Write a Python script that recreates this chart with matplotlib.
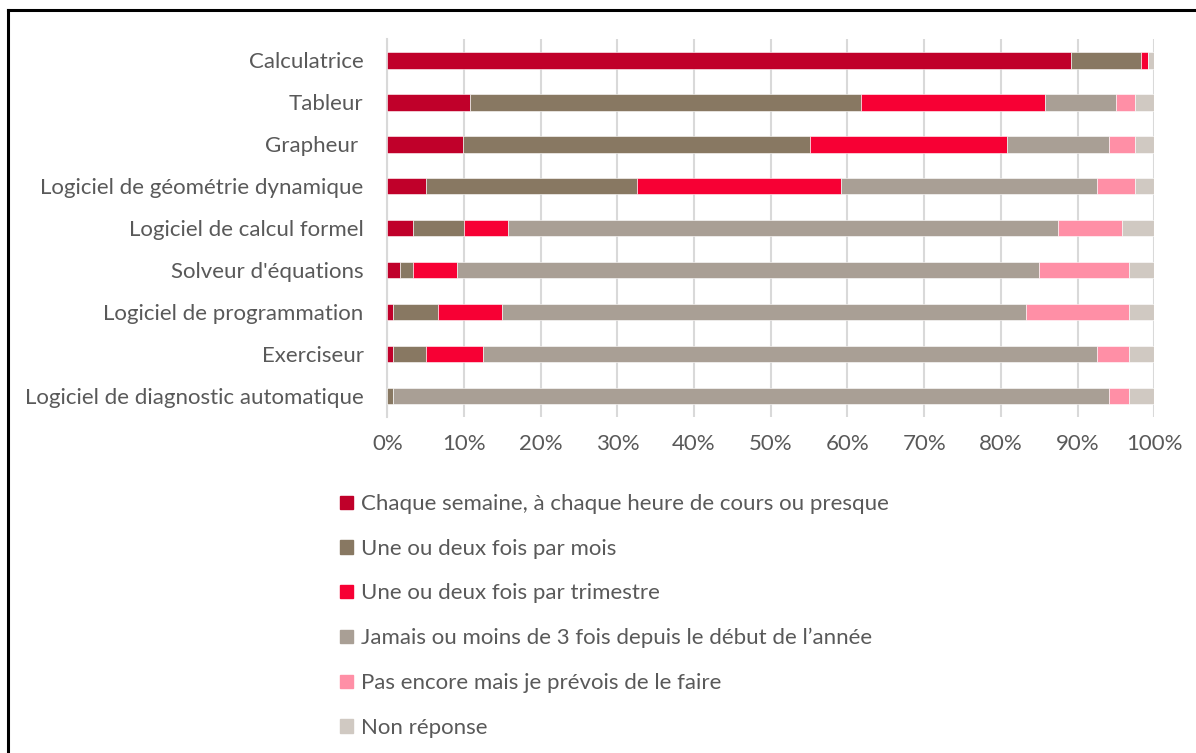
import matplotlib.pyplot as plt
import matplotlib.patches as mpatches
from matplotlib.lines import Line2D
from matplotlib.ticker import PercentFormatter

plt.rcParams['font.family'] = ['Lato', 'DejaVu Sans']

# catégories (de haut en bas)
categories = [
    "Calculatrice",
    "Tableur",
    "Grapheur ",
    "Logiciel de géométrie dynamique",
    "Logiciel de calcul formel",
    "Solveur d'équations",
    "Logiciel de programmation",
    "Exerciseur",
    "Logiciel de diagnostic automatique",
]

series_names = [
    "Chaque semaine, à chaque heure de cours ou presque",
    "Une ou deux fois par mois",
    "Une ou deux fois par trimestre",
    "Jamais ou moins de 3 fois depuis le début de l\u2019année",
    "Pas encore mais je prévois de le faire",
    "Non réponse",
]

chaque_semaine = [89.2, 10.8, 9.9, 5.0, 3.3, 1.6, 0.8, 0.8, 0.0]
par_mois = [9.1, 50.9, 45.2, 27.5, 6.7, 1.7, 5.8, 4.2, 0.8]
par_trimestre = [0.9, 24.1, 25.7, 26.7, 5.7, 5.8, 8.4, 7.5, 0.0]
jamais = [0.0, 9.2, 13.3, 33.3, 71.8, 75.9, 68.3, 80.0, 93.3]
pas_encore = [0.0, 2.5, 3.4, 5.0, 8.3, 11.7, 13.4, 4.2, 2.6]
non_reponse = [0.8, 2.5, 2.5, 2.5, 4.2, 3.3, 3.3, 3.3, 3.3]

colors = ["#C0002A", "#887862", "#F70034", "#A99F95", "#FF8FA6", "#D0C9C2"]

data = [chaque_semaine, par_mois, par_trimestre, jamais, pas_encore, non_reponse]

fig = plt.figure(figsize=(11.96, 7.53), dpi=100)
ax = fig.add_axes([0.3238, 0.4462, 0.6413, 0.5018])

y = list(range(len(categories)))
left = [0.0] * len(categories)
for vals, col, name in zip(data, colors, series_names):
    ax.barh(y, vals, left=left, height=0.4, color=col, label=name,
            edgecolor='white', linewidth=0.4, zorder=3)
    left = [l + v for l, v in zip(left, vals)]

ax.set_xlim(0, 100)
ax.set_ylim(len(categories) - 0.5, -0.5)
ax.set_yticks(y)
ax.set_yticklabels(categories)
ax.set_xticks(range(0, 101, 10))
ax.xaxis.set_major_formatter(PercentFormatter(decimals=0))
ax.tick_params(axis='both', length=0, labelsize=16, colors='#595959')
ax.tick_params(axis='y', pad=17)
ax.tick_params(axis='x', pad=12)
ax.grid(axis='x', color='#D9D9D9', linewidth=1.5, zorder=0)
for s in ['top', 'right', 'bottom']:
    ax.spines[s].set_visible(False)
ax.spines['left'].set_color('#D9D9D9')
ax.spines['left'].set_linewidth(1.5)

# légende
handles = [mpatches.Patch(color=c) for c in colors]
leg = fig.legend(handles, series_names, loc='upper left',
                 bbox_to_anchor=(0.2771, 0.3556), frameon=False,
                 fontsize=16, labelspacing=1.11, handlelength=0.55,
                 handleheight=0.55, handletextpad=0.36, borderaxespad=0)
for t in leg.get_texts():
    t.set_color('#595959')

# cadre
fig.add_artist(Line2D([0.0067, 1.0], [0.9867, 0.9867], color='black', lw=2.2))
fig.add_artist(Line2D([0.0067, 0.0067], [0.0, 0.9867], color='black', lw=2.2))

fig.savefig('out.png', dpi=100)
